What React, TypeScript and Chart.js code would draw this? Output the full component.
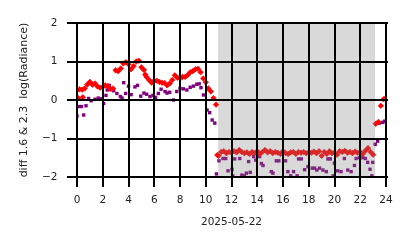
import React, { useEffect, useRef } from "react";
import { Chart, registerables } from "chart.js";

Chart.register(...registerables);

// x tick labels (hours) and y ticks
const hourTicks = [0, 2, 4, 6, 8, 10, 12, 14, 16, 18, 20, 22, 24];
const diffTicks = [-2, -1, 0, 1, 2];

// night (shaded) interval, in hours
const nightStart = 11.03;
const nightEnd = 23.1;

// red diamonds: [hour, value]
const redPoints: [number, number][] = [
  [0.0, 0.25], [0.08, 0.05], [0.2, 0.28], [0.4, 0.27], [0.45, 0.07], [0.6, 0.3], [0.8, 0.4],
  [1.0, 0.47], [1.2, 0.4], [1.4, 0.43], [1.6, 0.35], [1.8, 0.32], [2.0, 0.34],
  [2.2, 0.38], [2.4, 0.36], [2.6, 0.28], [2.8, 0.3], [3.0, 0.77], [3.2, 0.75],
  [3.4, 0.82], [3.6, 0.95], [3.8, 0.98], [4.0, 0.93], [4.2, 0.8], [4.4, 0.88],
  [4.6, 1.0], [4.8, 1.02], [5.0, 0.85], [5.2, 0.78], [5.3, 0.66], [5.4, 0.6],
  [5.6, 0.52], [5.8, 0.45], [6.0, 0.5], [6.2, 0.5], [6.4, 0.47], [6.6, 0.45],
  [6.8, 0.44], [7.0, 0.38], [7.2, 0.43], [7.4, 0.52], [7.6, 0.64], [7.8, 0.58],
  [8.0, 0.56], [8.2, 0.6], [8.4, 0.6], [8.6, 0.65], [8.8, 0.72], [9.0, 0.75],
  [9.2, 0.8], [9.4, 0.81], [9.6, 0.72], [9.8, 0.56], [10.0, 0.46], [10.2, 0.3],
  [10.4, 0.22], [10.6, 0.05], [10.8, -0.12],
  [10.9, -1.43], [11.0, -1.45], [11.2, -1.35], [11.4, -1.33], [11.6, -1.38], [11.8, -1.35],
  [12.0, -1.37], [12.2, -1.33], [12.4, -1.36], [12.6, -1.3], [12.8, -1.35],
  [13.0, -1.38], [13.2, -1.36], [13.4, -1.4], [13.6, -1.35], [13.8, -1.38],
  [14.0, -1.33], [14.2, -1.4], [14.4, -1.35], [14.6, -1.3], [14.8, -1.36],
  [15.0, -1.33], [15.2, -1.38], [15.4, -1.35], [15.6, -1.37], [15.8, -1.4],
  [16.0, -1.33], [16.2, -1.38], [16.4, -1.4], [16.6, -1.36], [16.8, -1.35],
  [17.0, -1.4], [17.2, -1.35], [17.4, -1.37], [17.6, -1.35], [17.8, -1.38],
  [18.0, -1.36], [18.2, -1.37], [18.4, -1.34], [18.6, -1.38], [18.8, -1.33],
  [19.0, -1.45], [19.2, -1.35], [19.4, -1.4], [19.6, -1.33], [19.8, -1.38],
  [20.0, -1.37], [20.2, -1.42], [20.4, -1.33], [20.6, -1.35], [20.8, -1.32],
  [21.0, -1.37], [21.2, -1.35], [21.4, -1.38], [21.6, -1.34], [21.8, -1.37],
  [22.0, -1.36], [22.2, -1.4], [22.4, -1.32], [22.6, -1.25], [22.8, -1.35],
  [23.0, -1.42], [23.2, -0.62], [23.4, -0.57], [23.6, -0.15], [23.8, 0.02],
  [24.0, 0.06],
];

// purple squares: [hour, value]
const purplePoints: [number, number][] = [
  [0.0, -0.42], [0.13, -0.17], [0.35, -0.17], [0.52, -0.39], [0.7, -0.15],
  [0.9, 0.04], [1.1, -0.02], [1.4, 0.02], [1.65, 0.05], [1.85, 0.03],
  [2.07, -0.09], [2.25, 0.12], [2.35, 0.26], [2.5, 0.38], [2.85, 0.24],
  [3.1, 0.17], [3.37, 0.09], [3.5, 0.05], [3.63, 0.45], [3.78, 0.17],
  [4.0, 0.36], [4.2, 0.14], [4.5, 0.34], [4.7, 0.38], [4.95, 0.1],
  [5.2, 0.18], [5.41, 0.15], [5.67, 0.09], [5.9, 0.12], [6.1, 0.07],
  [6.32, 0.17], [6.53, 0.28], [6.84, 0.22], [6.99, 0.18], [7.2, 0.2],
  [7.49, 0.0], [7.75, 0.22], [8.0, 0.3], [8.26, 0.29], [8.53, 0.26],
  [8.79, 0.33], [9.04, 0.36], [9.3, 0.41], [9.49, 0.42], [9.63, 0.32],
  [9.82, 0.13], [10.1, -0.26], [10.3, -0.33], [10.5, -0.52], [10.7, -0.6],
  [10.83, -1.92], [11.03, -1.58], [11.34, -1.52], [11.55, -1.52], [11.73, -1.84],
  [12.04, -1.8], [12.1, -1.97], [12.25, -1.53], [12.64, -1.52], [12.8, -1.95],
  [13.0, -1.97], [13.15, -1.9], [13.33, -1.6], [13.45, -1.88], [13.72, -1.47],
  [13.88, -1.56], [14.19, -1.47], [14.32, -1.65], [14.45, -1.7], [15.09, -1.86],
  [15.22, -1.9], [15.48, -1.58], [15.68, -1.58], [16.2, -1.58], [16.38, -1.86],
  [16.6, -1.97], [16.82, -1.86], [17.1, -1.97], [17.21, -1.53], [17.42, -1.53],
  [17.68, -1.81], [17.94, -1.73], [18.27, -1.77], [18.45, -1.77], [18.63, -1.82],
  [18.84, -1.77], [19.1, -1.82], [19.36, -1.86], [19.49, -1.53], [19.67, -1.53],
  [19.9, -1.97], [19.99, -1.64], [20.25, -1.84], [20.51, -1.86], [20.77, -1.52],
  [21.03, -1.82], [21.29, -1.86], [21.55, -1.7], [21.68, -1.52], [21.94, -1.5],
  [22.2, -1.5], [22.4, -1.52], [22.58, -1.62], [22.76, -1.8], [22.9, -1.97],
  [22.97, -1.62], [23.16, -1.15], [23.35, -1.07], [23.5, -0.6], [23.75, -0.58],
  [23.9, -0.55],
];

const FONT = "'DejaVu Sans', sans-serif";
const TEXT = "#222222";
const GRID = "#000000";

// draws the night band over the points, then the grid over everything
const bandAndGrid = {
  id: "bandAndGrid",
  afterDatasetsDraw(chart: any) {
    const { ctx, chartArea, scales } = chart;
    const { left, right, top, bottom } = chartArea;
    const x0 = scales.x.getPixelForValue(nightStart);
    const x1 = scales.x.getPixelForValue(nightEnd);
    ctx.save();
    ctx.fillStyle = "rgba(128,128,128,0.3)";
    ctx.fillRect(x0, top, x1 - x0, bottom - top);
    ctx.fillStyle = "rgba(128,128,128,0.25)";
    ctx.fillRect(Math.round(x0) - 1, top, 1, bottom - top);
    ctx.fillRect(Math.round(x1), top, 1, bottom - top);
    ctx.restore();

    ctx.save();
    ctx.strokeStyle = GRID;
    ctx.lineWidth = 2;
    ctx.beginPath();
    for (const v of hourTicks) {
      const px = Math.round(scales.x.getPixelForValue(v));
      ctx.moveTo(px, top - 1);
      ctx.lineTo(px, bottom + 1);
    }
    for (const v of diffTicks) {
      const py = Math.round(scales.y.getPixelForValue(v));
      ctx.moveTo(left - 1, py);
      ctx.lineTo(right + 2, py);
    }
    ctx.stroke();
    ctx.restore();
  },
};

export default function App() {
  const ref = useRef<HTMLCanvasElement | null>(null);
  useEffect(() => {
    if (!ref.current) return;
    const chart = new Chart(ref.current, {
      type: "scatter",
      data: {
        datasets: [
          {
            label: "1.6",
            data: redPoints.map(([x, y]) => ({ x, y })),
            pointStyle: "rectRot",
            pointRadius: 2.8,
            backgroundColor: "#ff0000",
            borderColor: "#ff0000",
            borderWidth: 0.6,
            showLine: false,
            clip: 0,
          },
          {
            label: "2.3",
            data: purplePoints.map(([x, y]) => ({ x, y })),
            pointStyle: "rect",
            pointRadius: 2.4,
            backgroundColor: "#800080",
            borderColor: "#800080",
            borderWidth: 0,
            showLine: false,
            clip: 0,
          },
        ],
      },
      options: {
        animation: false,
        responsive: false,
        events: [],
        layout: { padding: { top: 23, right: 28, left: 0, bottom: 0 } },
        plugins: { legend: { display: false }, tooltip: { enabled: false } },
        scales: {
          x: {
            type: "linear",
            min: 0,
            max: 24,
            afterBuildTicks: (s: any) => {
              s.ticks = hourTicks.map((v) => ({ value: v }));
            },
            afterFit: (s: any) => {
              s.height = 71;
            },
            ticks: {
              autoSkip: false,
              maxRotation: 0,
              padding: 7,
              color: TEXT,
              font: { family: FONT, size: 10.5 },
            },
            grid: { color: GRID, lineWidth: 2, tickLength: 10, drawOnChartArea: false },
            border: { display: false },
            title: {
              display: true,
              text: "2025-05-22",
              color: TEXT,
              font: { family: FONT, size: 10.5 },
              padding: { top: 0, bottom: 19.5 },
            },
          },
          y: {
            type: "linear",
            min: -2,
            max: 2,
            afterBuildTicks: (s: any) => {
              s.ticks = diffTicks.map((v) => ({ value: v }));
            },
            afterFit: (s: any) => {
              s.width = 77;
            },
            ticks: {
              padding: 9.5,
              color: TEXT,
              font: { family: FONT, size: 10.5 },
              callback: (v: any) => String(v).replace("-", "\u2212"),
            },
            grid: { color: GRID, lineWidth: 2, tickLength: 10, drawOnChartArea: false },
            border: { display: false },
            title: {
              display: true,
              text: "diff 1.6 & 2.3  log(Radiance)",
              color: TEXT,
              font: { family: FONT, size: 11 },
              padding: { top: 17.4, bottom: 0 },
            },
          },
        },
      },
      plugins: [bandAndGrid],
    });
    return () => chart.destroy();
  }, []);
  return (
    <div style={{ position: "fixed", left: 0, top: 0, width: 414, height: 248, background: "#fff" }}>
      <canvas ref={ref} width={414} height={248} style={{ display: "block" }} />
    </div>
  );
}
